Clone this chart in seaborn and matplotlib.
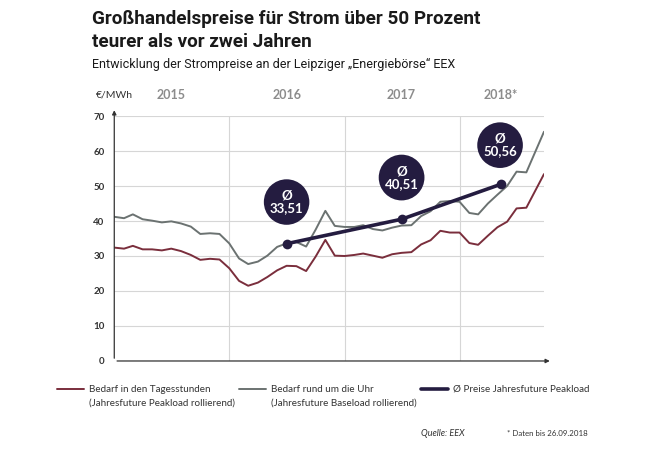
import pandas as pd
import matplotlib.pyplot as plt
from matplotlib.lines import Line2D
import seaborn as sns

# Monatswerte Jan 2015 - Aug 2018, dazu der letzte Stand vom 26.09.2018
months = list(pd.date_range('2015-01-01', '2018-08-01', freq='MS')) + [pd.Timestamp('2018-09-26')]
peakload = [32.4, 32.1, 32.9, 31.9, 31.9, 31.6, 32.1, 31.4, 30.3, 28.9, 29.2, 29.0,
            26.5, 22.9, 21.5, 22.4, 24.0, 25.9, 27.2, 27.1, 25.7, 29.8, 34.6, 30.1,
            30.0, 30.3, 30.7, 30.1, 29.5, 30.5, 30.9, 31.1, 33.3, 34.5, 37.2, 36.7,
            36.7, 33.7, 33.2, 35.8, 38.2, 39.8, 43.6, 43.8, 53.4]
baseload = [41.2, 40.8, 41.9, 40.5, 40.1, 39.6, 39.9, 39.3, 38.4, 36.3, 36.5, 36.3,
            33.6, 29.3, 27.7, 28.4, 30.1, 32.6, 33.6, 34.0, 32.7, 37.5, 42.9, 38.6,
            38.3, 38.3, 38.8, 37.7, 37.3, 38.1, 38.7, 38.8, 41.4, 42.8, 45.5, 45.7,
            45.5, 42.3, 41.9, 45.0, 47.5, 50.0, 54.1, 53.9, 65.5]

mean_dates = pd.to_datetime(['2016-07-01', '2017-07-01', '2018-05-14'])
mean_values = [33.51, 40.51, 50.56]
mean_labels = ['Ø\n33,51', 'Ø\n40,51', 'Ø\n50,56']

year_labels = ['2015', '2016', '2017', '2018*']
year_centers = pd.to_datetime(['2015-07-01', '2016-07-01', '2017-07-01', '2018-05-12'])
year_starts = pd.to_datetime(['2016-01-01', '2017-01-01', '2018-01-01'])
yticks = [0, 10, 20, 30, 40, 50, 60, 70]

df = pd.DataFrame({'datum': months, 'peak': peakload, 'base': baseload})
df_mean = pd.DataFrame({'datum': mean_dates, 'wert': mean_values})

red = '#7a2e3c'
grey = '#6b7271'
navy = '#241c40'

sns.set_style('white')
plt.rcParams['font.family'] = ['Lato', 'DejaVu Sans']

fig = plt.figure(figsize=(6.5, 4.5), dpi=100)
ax = fig.add_axes([0.1758, 0.1978, 0.6611, 0.5444])

sns.lineplot(data=df, x='datum', y='peak', color=red, lw=1.4, ax=ax)
sns.lineplot(data=df, x='datum', y='base', color=grey, lw=1.4, ax=ax)
sns.lineplot(data=df_mean, x='datum', y='wert', color=navy, lw=2.6, marker='o',
             markersize=7, markeredgewidth=0, ax=ax)

offsets = [(0, 30), (0, 30), (-1, 28)]
for d, v, lab, off in zip(mean_dates, mean_values, mean_labels, offsets):
    ax.annotate(lab, xy=(d, v), xytext=off, textcoords='offset points',
                ha='center', va='center', color='white', fontsize=9.5,
                fontweight='bold', linespacing=1.05,
                bbox=dict(boxstyle='circle,pad=0.45', fc=navy, ec='none'))

ax.set_xlim(months[0], months[-1])
ax.set_ylim(0, 70)
ax.set_yticks(yticks)
ax.set_xticks(year_starts)
ax.set_xticklabels([])
ax.set_xlabel('')
ax.set_ylabel('')
ax.grid(True, color='#d6d6d6', lw=0.8)
ax.set_axisbelow(True)
ax.tick_params(axis='both', length=0)
ax.tick_params(axis='y', pad=7, labelsize=7, labelcolor='#333333')
for t in ax.get_yticklabels():
    t.set_fontweight('bold')
for s in ax.spines.values():
    s.set_visible(False)

# Achsen mit Pfeilspitzen
ax.annotate('', xy=(0, 1.035), xytext=(0, 0), xycoords='axes fraction',
            arrowprops=dict(arrowstyle='-|>', color='#333333', lw=0.9, mutation_scale=6))
ax.annotate('', xy=(1.02, 0), xytext=(0, 0), xycoords='axes fraction',
            arrowprops=dict(arrowstyle='-|>', color='#333333', lw=0.9, mutation_scale=6))

trans = ax.get_xaxis_transform()
for d, lab in zip(year_centers, year_labels):
    ax.text(d, 1.086, lab, transform=trans, ha='center', va='center',
            fontsize=9, fontweight='bold', color='#8c8c8c')
ax.text(0, 1.086, '€/MWh', transform=ax.transAxes, ha='center', va='center',
        fontsize=7.5, color='#333333')

# Titel
title_font = ['Roboto', 'DejaVu Sans']
fig.text(92 / 650, 1 - 19 / 450, 'Großhandelspreise für Strom über 50 Prozent',
         fontsize=13.6, fontweight='bold', color='#1a1a1a', va='center', family=title_font)
fig.text(92 / 650, 1 - 42 / 450, 'teurer als vor zwei Jahren',
         fontsize=13.6, fontweight='bold', color='#1a1a1a', va='center', family=title_font)
fig.text(92 / 650, 1 - 64 / 450, 'Entwicklung der Strompreise an der Leipziger „Energiebörse“ EEX',
         fontsize=9, color='#1a1a1a', va='center', family=title_font)

# Legende
legend_items = [
    (57, red, 1.4, 'Bedarf in den Tagesstunden', '(Jahresfuture Peakload rollierend)'),
    (239, grey, 1.4, 'Bedarf rund um die Uhr', '(Jahresfuture Baseload rollierend)'),
    (421, navy, 2.6, 'Ø Preise Jahresfuture Peakload', ''),
]
for x0, c, lw, l1, l2 in legend_items:
    fig.add_artist(Line2D([x0 / 650, (x0 + 27) / 650], [1 - 389 / 450] * 2, color=c, lw=lw))
    fig.text((x0 + 32) / 650, 1 - 389 / 450, l1, fontsize=7.1, color='#333333', va='center')
    if l2:
        fig.text((x0 + 32) / 650, 1 - 403 / 450, l2, fontsize=7.1, color='#333333', va='center')

fig.text(421 / 650, 1 - 433 / 450, 'Quelle: EEX', fontsize=6.5, style='italic',
         color='#333333', va='center')
fig.text(507 / 650, 1 - 433 / 450, '* Daten bis 26.09.2018', fontsize=5.7,
         color='#333333', va='center')

fig.savefig('out.png', dpi=100, facecolor='white')
